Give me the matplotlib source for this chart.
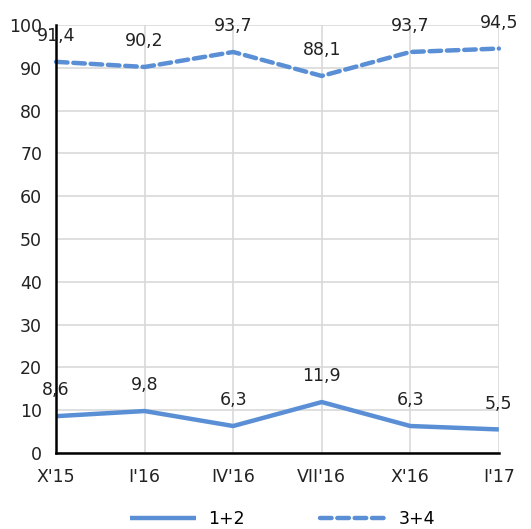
import matplotlib
matplotlib.use("Agg")
import matplotlib.pyplot as plt

categories = ["X'15", "I'16", "IV'16", "VII'16", "X'16", "I'17"]
series_12 = [8.6, 9.8, 6.3, 11.9, 6.3, 5.5]
series_34 = [91.4, 90.2, 93.7, 88.1, 93.7, 94.5]
yticks = [0, 10, 20, 30, 40, 50, 60, 70, 80, 90, 100]

color = "#5A8FD6"
plt.rcParams['font.family'] = ['DejaVu Sans']
FS = 12.5

fig = plt.figure(figsize=(5.31, 5.29), dpi=100)
ax = fig.add_axes([0.1055, 0.1437, 0.834, 0.809])

x = list(range(len(categories)))
ax.plot(x, series_12, color=color, lw=3.2, solid_capstyle='butt', label="1+2", clip_on=False)
ax.plot(x, series_34, color=color, lw=3.2, linestyle=(0, (2.6, 1.3)), dash_capstyle='round',
        label="3+4", clip_on=False)

def fmt(v):
    return f"{v:.1f}".replace(".", ",")

for series in (series_12, series_34):
    for xi, v in zip(x, series):
        ax.annotate(fmt(v), (xi, v), xytext=(0, 18.5), textcoords='offset points',
                    ha='center', va='center', fontsize=FS, color='#222222', annotation_clip=False)

ax.set_xlim(0, len(categories) - 1)
ax.set_ylim(0, 100)
ax.set_yticks(yticks)
ax.set_xticks(x)
ax.set_xticklabels(categories)
ax.tick_params(axis='both', length=0, labelsize=FS, colors='#222222')
ax.tick_params(axis='x', pad=11)
ax.tick_params(axis='y', pad=10)
ax.grid(True, color='#D9D9D9', lw=1.2)
ax.set_axisbelow(True)
for s in ['top', 'right']:
    ax.spines[s].set_visible(False)
for s in ['left', 'bottom']:
    ax.spines[s].set_color('black')
    ax.spines[s].set_linewidth(1.8)

fig.legend(loc='lower center', bbox_to_anchor=(0.532, -0.027), ncol=2, frameon=False,
           fontsize=FS, handlelength=3.8, columnspacing=4.3, handletextpad=0.75)

fig.savefig("out.png", dpi=100)
